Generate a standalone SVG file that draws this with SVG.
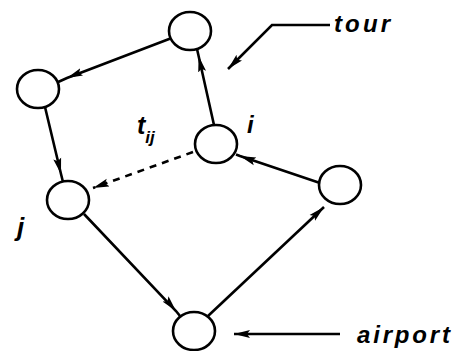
<svg xmlns="http://www.w3.org/2000/svg" width="454" height="351" viewBox="0 0 454 351">
<defs>
<marker id="ah" markerUnits="userSpaceOnUse" markerWidth="18" markerHeight="10" refX="16" refY="4.5" orient="auto">
<path d="M0,0.5 L16,4.5 L0,8.5 L3,4.5 z" fill="#000"/>
</marker>
<style>
.node{fill:#fff;stroke:#000;stroke-width:2.6}
.edge{fill:none;stroke:#000;stroke-width:2.6}
.mid{marker-mid:url(#ah)}
.end{marker-end:url(#ah)}
.dash{stroke-dasharray:7 6}
.lbl{font-family:"Liberation Sans",Arial,sans-serif;font-style:italic;font-weight:bold;fill:#000}
.big{font-size:24px}
</style>
</defs>
<rect width="454" height="351" fill="#fff"/>
<g id="connectors">
<path class="edge mid" d="M170.4,38.5 L67,78 L57.6,82.2"/>
<path class="edge mid" d="M45,107 L61,174 L63,182"/>
<path class="edge mid" d="M214,125 L198.6,56 L197,49"/>
<path class="edge end dash" d="M193,152 L93,188"/>
<path class="edge mid" d="M320,183 L240,156 L236,154.5"/>
<path class="edge mid" d="M84,214 L176,311 L180,316"/>
<path class="edge end" d="M208,316 L324,207"/>
<path class="edge end" d="M330,25 L272,25 L228,69"/>
<path class="edge end" d="M340,334 L234,334"/>
</g>
<g id="node-top"><ellipse class="node" cx="190" cy="31" rx="21" ry="19"/></g>
<g id="node-left"><ellipse class="node" cx="38" cy="89" rx="21" ry="19"/></g>
<g id="node-i"><ellipse class="node" cx="216" cy="144" rx="21" ry="19"/></g>
<g id="node-right"><ellipse class="node" cx="340" cy="185" rx="21" ry="19"/></g>
<g id="node-j"><ellipse class="node" cx="68" cy="200" rx="21" ry="19"/></g>
<g id="node-airport"><ellipse class="node" cx="194" cy="331" rx="21" ry="19"/></g>
<g id="labels">
<text class="lbl big" x="334" y="32" textLength="56" lengthAdjust="spacing">tour</text>
<text class="lbl big" x="357" y="343" textLength="93" lengthAdjust="spacing">airport</text>
<text class="lbl" x="137" y="134" font-size="25">t<tspan font-size="17" dy="9">ij</tspan></text>
<text class="lbl" x="247" y="133" font-size="24">i</text>
<text class="lbl" x="17" y="236" font-size="26">j</text>
</g>
</svg>
